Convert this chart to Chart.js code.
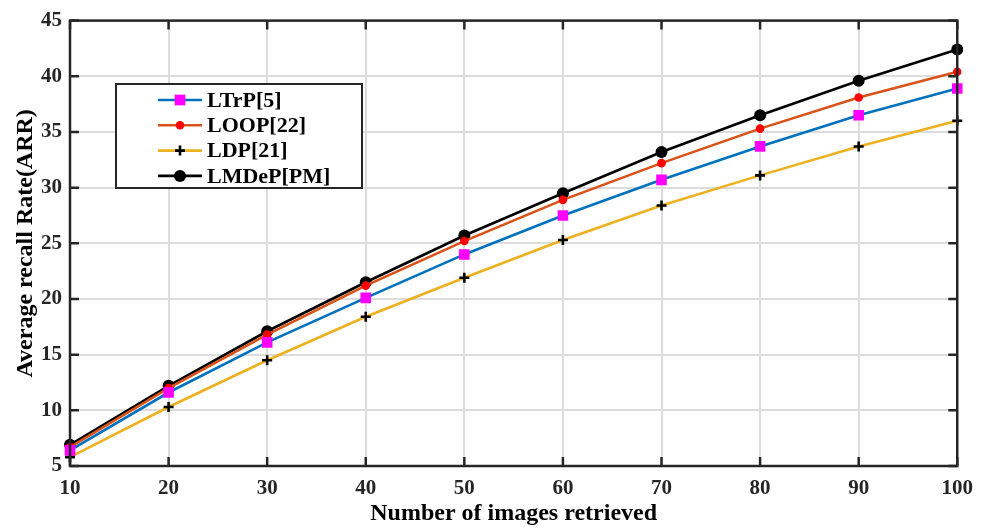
<!DOCTYPE html>
<html lang="en">
<head>
  <meta charset="UTF-8">
  <title>Average recall rate vs number of images retrieved</title>
  <style>
    html, body { margin: 0; padding: 0; background: #fff; }
    .chart-container { width: 983px; height: 528px; }
  </style>
</head>
<body>
  <div class="chart-container">
    <canvas id="arrChart" width="983" height="528"></canvas>
  </div>

  <script src="https://cdn.jsdelivr.net/npm/chart.js"></script>
  <script>
    const imagesRetrieved = [10, 20, 30, 40, 50, 60, 70, 80, 90, 100];

    const ltrp  = [6.4, 11.6, 16.1, 20.1, 24.0, 27.5, 30.7, 33.7, 36.5, 38.9];
    const loop  = [6.7, 12.0, 16.8, 21.2, 25.2, 28.9, 32.2, 35.3, 38.1, 40.4];
    const ldp   = [5.8, 10.3, 14.5, 18.4, 21.9, 25.3, 28.4, 31.1, 33.7, 36.0];
    const lmdep = [6.9, 12.2, 17.1, 21.5, 25.7, 29.5, 33.2, 36.5, 39.6, 42.4];

    const yTicks = [5, 10, 15, 20, 25, 30, 35, 40, 45];

    const serif = 'Liberation Serif, Times New Roman, serif';
    const ctx = document.getElementById('arrChart').getContext('2d');

    const makeSet = (label, data, color, style, radius, pointColor) => ({
      label: label,
      data: data,
      fill: false,
      borderColor: color,
      borderWidth: 2.6,
      tension: 0,
      pointStyle: style,
      pointRadius: radius,
      pointHoverRadius: radius,
      pointBackgroundColor: pointColor,
      pointBorderColor: pointColor,
      pointBorderWidth: style === 'cross' ? 2.6 : 0
    });

    // MATLAB style box, inward ticks and legend inside the axes
    const matlabAxes = {
      id: 'matlabAxes',
      beforeDraw(chart) {
        const c = chart.ctx;
        c.save();
        c.fillStyle = '#fff';
        c.fillRect(0, 0, chart.width, chart.height);
        c.restore();
      },
      afterDatasetsDraw(chart) {
        const c = chart.ctx;
        const a = chart.chartArea;
        const xs = chart.scales.x, ys = chart.scales.y;
        c.save();
        c.strokeStyle = '#262626';
        c.lineWidth = 2.5;
        c.beginPath();
        xs.ticks.forEach((t, i) => {
          const px = xs.getPixelForTick(i);
          c.moveTo(px, a.bottom); c.lineTo(px, a.bottom - 9);
          c.moveTo(px, a.top); c.lineTo(px, a.top + 9);
        });
        ys.ticks.forEach((t, i) => {
          const py = ys.getPixelForTick(i);
          c.moveTo(a.left, py); c.lineTo(a.left + 9, py);
          c.moveTo(a.right, py); c.lineTo(a.right - 9, py);
        });
        c.stroke();
        c.strokeRect(a.left, a.top, a.right - a.left, a.bottom - a.top);
        c.restore();
      },
      afterDraw(chart) {
        const c = chart.ctx;
        const box = { x: 116, y: 84, w: 246, h: 104 };
        c.save();
        c.fillStyle = '#fff';
        c.fillRect(box.x, box.y, box.w, box.h);
        c.strokeStyle = '#262626';
        c.lineWidth = 2;
        c.strokeRect(box.x, box.y, box.w, box.h);
        c.font = 'bold 22px ' + serif;
        c.textBaseline = 'middle';
        c.textAlign = 'left';
        chart.data.datasets.forEach((ds, i) => {
          const y = 100 + i * 25.3;
          c.strokeStyle = ds.borderColor;
          c.lineWidth = ds.borderWidth;
          c.beginPath();
          c.moveTo(158, y); c.lineTo(202, y);
          c.stroke();
          c.fillStyle = ds.pointBackgroundColor;
          c.strokeStyle = ds.pointBorderColor;
          c.lineWidth = ds.pointBorderWidth || 0;
          Chart.helpers.drawPoint(c, {
            pointStyle: ds.pointStyle,
            radius: ds.pointRadius,
            borderWidth: ds.pointBorderWidth || 0,
            rotation: 0
          }, 180, y);
          c.fillStyle = '#000';
          c.fillText(ds.label, 207, y + 1);
        });
        c.restore();
      }
    };

    new Chart(ctx, {
      type: 'line',
      data: {
        labels: imagesRetrieved,
        datasets: [
          makeSet('LTrP[5]', ltrp, '#0072BD', 'rect', 7.5, '#FF00FF'),
          makeSet('LOOP[22]', loop, '#D95319', 'circle', 4.3, '#FF0000'),
          makeSet('LDP[21]', ldp, '#EDB120', 'cross', 5, '#000000'),
          makeSet('LMDeP[PM]', lmdep, '#000000', 'circle', 6, '#000000')
        ]
      },
      options: {
        responsive: false,
        animation: false,
        layout: { padding: { top: 15, right: 25, left: 0, bottom: 0 } },
        plugins: {
          legend: { display: false },
          tooltip: { enabled: false }
        },
        scales: {
          x: {
            offset: false,
            afterFit(scale) { scale.height = 62; },
            grid: { color: '#dcdcdc', lineWidth: 2, drawTicks: false, offset: false },
            border: { display: false },
            ticks: {
              color: '#262626',
              padding: 10,
              maxRotation: 0,
              font: { family: serif, size: 21, weight: 'bold' }
            },
            title: {
              display: true,
              text: 'Number of images retrieved',
              color: '#000',
              padding: { top: 0, bottom: 0 },
              font: { family: serif, size: 24, weight: 'bold' }
            }
          },
          y: {
            min: 5,
            max: 45,
            afterFit(scale) { scale.width = 70; },
            afterBuildTicks(scale) { scale.ticks = yTicks.map(v => ({ value: v })); },
            grid: { color: '#dcdcdc', lineWidth: 2, drawTicks: false },
            border: { display: false },
            ticks: {
              color: '#262626',
              padding: 8,
              font: { family: serif, size: 21, weight: 'bold' }
            },
            title: {
              display: true,
              text: 'Average recall Rate(ARR)',
              color: '#000',
              padding: { top: 11, bottom: 0 },
              font: { family: serif, size: 24, weight: 'bold' }
            }
          }
        }
      },
      plugins: [matlabAxes]
    });
  </script>
</body>
</html>
